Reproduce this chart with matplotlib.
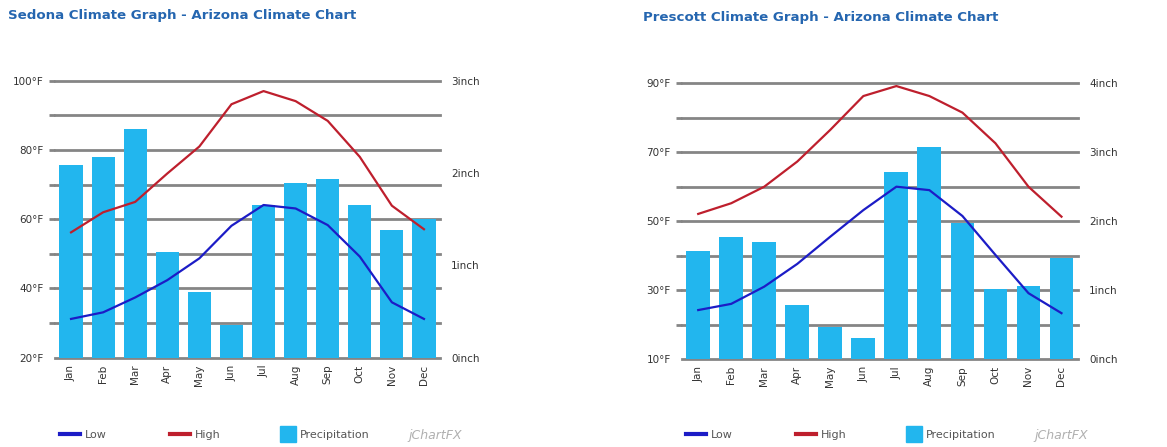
import numpy as np
import matplotlib.pyplot as plt
from matplotlib.lines import Line2D

months = ['Jan', 'Feb', 'Mar', 'Apr', 'May', 'Jun',
          'Jul', 'Aug', 'Sep', 'Oct', 'Nov', 'Dec']

# Sedona
sed_high = [56.2, 62.0, 65.0, 73.2, 81.0, 93.2, 97.0, 94.1, 88.4, 78.0, 63.9, 57.1]
sed_low = [31.2, 33.1, 37.4, 42.4, 48.7, 58.1, 64.1, 63.1, 58.3, 49.2, 36.0, 31.2]
sed_prec = [2.09, 2.17, 2.48, 1.14, 0.71, 0.35, 1.65, 1.89, 1.93, 1.65, 1.38, 1.50]

# Prescott
pre_high = [52.1, 55.2, 60.0, 67.3, 76.5, 86.3, 89.2, 86.3, 81.5, 72.6, 60.0, 51.3]
pre_low = [24.2, 26.0, 31.0, 37.6, 45.5, 53.2, 60.0, 59.0, 51.5, 40.2, 29.1, 23.3]
pre_prec = [1.57, 1.77, 1.70, 0.78, 0.46, 0.31, 2.72, 3.07, 1.97, 1.02, 1.06, 1.46]

BAR = '#22b6ee'
HIGH = '#be1f2d'
LOW = '#1c1cc6'
GRID = '#858585'
TITLE = '#2566b0'
TXT = '#333333'

W, H = 1167, 447
fig = plt.figure(figsize=(W / 100, H / 100), dpi=100)


def px_axes(x0, y0, x1, y1):
    return fig.add_axes([x0 / W, 1 - y1 / H, (x1 - x0) / W, (y1 - y0) / H])


def climate(box, title, tx, ty, high, low, prec, tmin, tmax, pmax, leg_x):
    ax = px_axes(*box)
    ax.set_xlim(-0.5, 11.5)
    ax.set_ylim(tmin, tmax)
    for s in ax.spines.values():
        s.set_visible(False)
    ticks = np.arange(tmin, tmax + 1, 10)
    for t in ticks:
        ax.axhline(t, color=GRID, lw=2, zorder=0, clip_on=False)
        if t != tmin:
            ax.plot([-0.5 - 6 / 33.0, -0.5], [t, t], color=GRID, lw=2,
                    clip_on=False, solid_capstyle='butt', zorder=0)
    ax.set_yticks(ticks[::2])
    ax.set_yticklabels(['%d°F' % t for t in ticks[::2]])
    ax.tick_params(axis='y', length=0, pad=8, labelsize=7.5, labelcolor=TXT)
    x = np.arange(12)
    ax.set_xticks(x)
    ax.set_xticklabels(months, rotation=90)
    ax.tick_params(axis='x', length=0, pad=5, labelsize=7.5, labelcolor=TXT)

    ax2 = ax.twinx()
    ax2.set_ylim(0, pmax)
    for s in ax2.spines.values():
        s.set_visible(False)
    ax2.set_yticks(np.arange(0, pmax + 1))
    ax2.set_yticklabels(['%dinch' % v for v in range(int(pmax) + 1)])
    ax2.tick_params(axis='y', length=0, pad=8, labelsize=7.5, labelcolor=TXT)
    ax2.bar(x, prec, width=0.72, color=BAR, zorder=1)
    ax2.set_zorder(ax.get_zorder() + 1)
    ax2.patch.set_visible(False)
    # temperature lines drawn in precipitation coordinates so they sit above bars
    sc = pmax / (tmax - tmin)
    ax2.plot(x, (np.array(high) - tmin) * sc, color=HIGH, lw=1.6, zorder=3)
    ax2.plot(x, (np.array(low) - tmin) * sc, color=LOW, lw=1.6, zorder=3)

    fig.text(tx / W, 1 - ty / H, title, color=TITLE, fontsize=9.6,
             fontweight='bold', va='center', ha='left')

    ly = 1 - 435 / H
    handles = [Line2D([], [], color=LOW, lw=3),
               Line2D([], [], color=HIGH, lw=3),
               Line2D([], [], color=BAR, ls='', marker='s', ms=11)]
    labels = ['Low', 'High', 'Precipitation']
    offs = [0, 110, 222]
    hl = [1.8, 1.8, 1.0]
    for h, l, o, n in zip(handles, labels, offs, hl):
        fig.legend([h], [l], loc='center left',
                   bbox_to_anchor=((leg_x + o - 10) / W, ly),
                   frameon=False, fontsize=8, handlelength=n,
                   handletextpad=0.6 if n == 1.0 else 0.4,
                   labelcolor='#555555')
    fig.text((leg_x + 348) / W, ly, 'jChartFX', fontsize=9, style='italic',
             color='#b0b0b0', va='center', ha='left')


climate((55, 80.7, 440, 357.7), 'Sedona Climate Graph - Arizona Climate Chart',
        8, 15, sed_high, sed_low, sed_prec, 20, 100, 3, 60)
climate((681.7, 83.3, 1078, 359), 'Prescott Climate Graph - Arizona Climate Chart',
        643, 18, pre_high, pre_low, pre_prec, 10, 90, 4, 686)

fig.savefig('out.png', dpi=100, facecolor='white')
